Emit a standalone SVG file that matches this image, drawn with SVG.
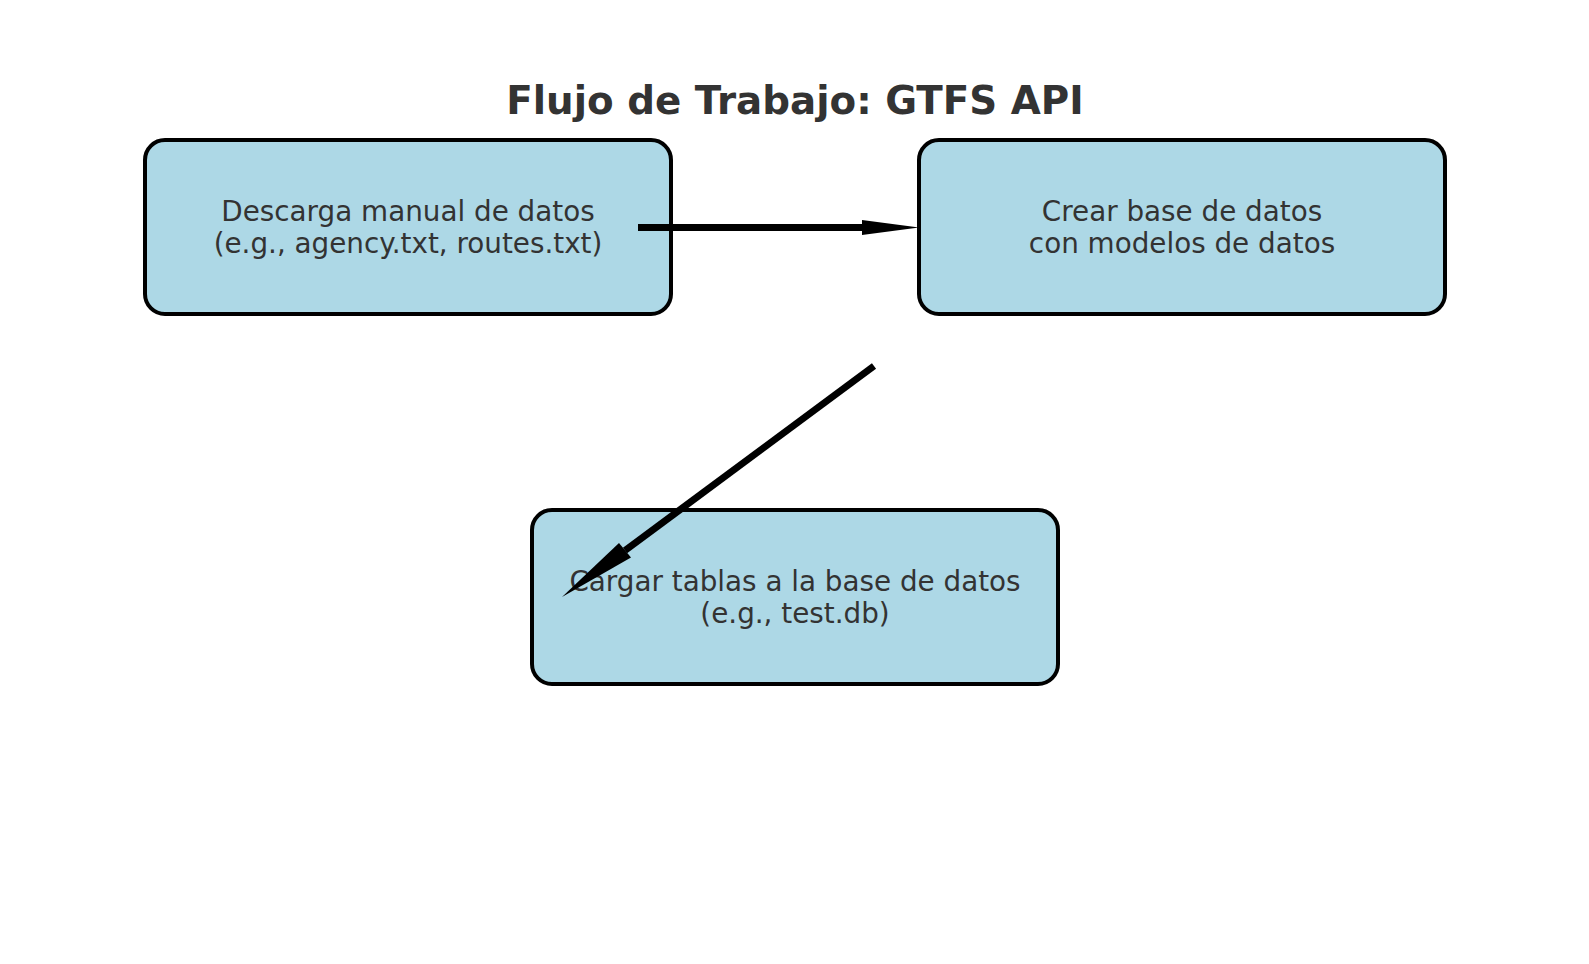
<svg xmlns="http://www.w3.org/2000/svg" width="1589" height="964" viewBox="0 0 1589 964">
<style>
.box{fill:#ADD8E6;stroke:#000;stroke-width:4}
.lbl{font-family:"DejaVu Sans",sans-serif;font-size:27.8px;fill:#333;text-anchor:middle}
.title{font-family:"DejaVu Sans",sans-serif;font-size:38.8px;font-weight:bold;fill:#333;text-anchor:middle}
.conn{stroke:#000;stroke-width:7;fill:none;stroke-linecap:butt}
.head{fill:#000;stroke:none}
</style>
<rect width="1589" height="964" fill="#fff"/>
<text class="title" x="795" y="113.5">Flujo de Trabajo: GTFS API</text>
<g id="node-descarga">
<rect class="box" x="145" y="140" width="526" height="174" rx="20" ry="20"/>
<text class="lbl" x="408" y="221">Descarga manual de datos</text>
<text class="lbl" x="408" y="253">(e.g., agency.txt, routes.txt)</text>
</g>
<g id="node-crear">
<rect class="box" x="919" y="140" width="526" height="174" rx="20" ry="20"/>
<text class="lbl" x="1182" y="221">Crear base de datos</text>
<text class="lbl" x="1182" y="253">con modelos de datos</text>
</g>
<g id="node-cargar">
<rect class="box" x="532" y="510" width="526" height="174" rx="20" ry="20"/>
<text class="lbl" x="795" y="591">Cargar tablas a la base de datos</text>
<text class="lbl" x="795" y="623">(e.g., test.db)</text>
</g>
<g id="connectors">
<line class="conn" x1="638" y1="227.5" x2="863" y2="227.5"/>
<polygon class="head" points="862,220 919,227.5 862,235"/>
<line class="conn" x1="874" y1="366" x2="625" y2="550.5"/>
<polygon class="head" points="619,543 562,597 631,557.5"/>
</g>
</svg>
